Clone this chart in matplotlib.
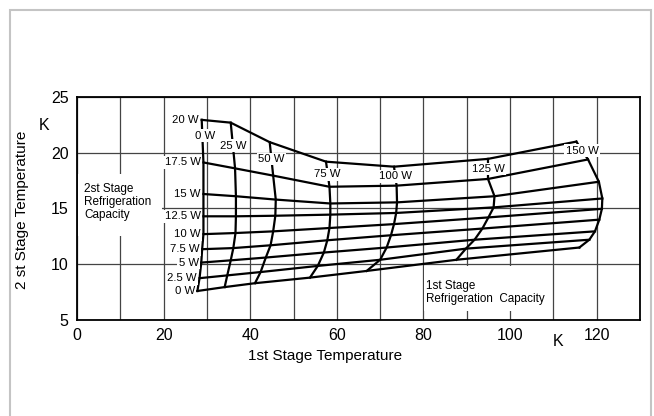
import matplotlib
matplotlib.use('Agg')
import matplotlib.pyplot as plt
from matplotlib.patches import Rectangle

plt.rcParams['font.family'] = ['Liberation Sans', 'DejaVu Sans']

# loads (W)
first_loads = [0, 25, 50, 75, 100, 125, 150]
second_loads = [0, 2.5, 5, 7.5, 10, 12.5, 15, 17.5, 20]
first_labels = ['0 W', '25 W', '50 W', '75 W', '100 W', '125 W', '150 W']
second_labels = ['0 W', '2.5 W', '5 W', '7.5 W', '10 W', '12.5 W', '15 W', '17.5 W', '20 W']

# 1st stage temperature (K), one row per 2nd stage load, one column per 1st stage load
t1 = [
    [27.8, 34.1, 41.1, 53.8, 66.9, 87.6, 116.0],
    [28.3, 34.7, 42.4, 55.6, 70.0, 89.8, 118.3],
    [28.7, 35.5, 43.6, 57.0, 71.5, 91.8, 119.6],
    [28.9, 36.1, 44.7, 57.8, 72.5, 93.6, 120.6],
    [29.2, 36.6, 45.3, 58.3, 73.2, 95.0, 121.2],
    [29.2, 36.7, 45.8, 58.5, 73.7, 96.2, 121.3],
    [29.2, 36.7, 45.9, 58.5, 73.9, 96.4, 120.5],
    [29.2, 36.5, 45.3, 58.3, 73.8, 94.9, 118.0],
    [28.8, 35.5, 44.5, 57.5, 73.2, 94.9, 115.3],
]
# 2nd stage temperature (K), same layout
t2 = [
    [7.6, 7.95, 8.3, 8.8, 9.4, 10.4, 11.5],
    [8.75, 9.0, 9.3, 9.85, 10.4, 11.4, 12.2],
    [10.15, 10.35, 10.6, 11.05, 11.5, 12.2, 12.95],
    [11.35, 11.45, 11.7, 12.15, 12.6, 13.2, 14.0],
    [12.7, 12.8, 12.95, 13.25, 13.6, 14.2, 14.97],
    [14.3, 14.3, 14.35, 14.45, 14.6, 15.1, 15.9],
    [16.3, 16.1, 15.8, 15.45, 15.55, 16.1, 17.4],
    [19.13, 18.6, 17.95, 16.95, 17.05, 17.65, 19.4],
    [22.95, 22.7, 20.95, 19.2, 18.75, 19.45, 21.0],
]

fig = plt.figure(figsize=(6.54, 4.16), dpi=100)
ax = fig.add_axes([0.1177, 0.2308, 0.8609, 0.536])

# outer grey frame
fig.patches.append(Rectangle((0.0153, -0.05), 0.98, 1.026, transform=fig.transFigure,
                             fill=False, edgecolor='#c4c4c4', lw=1.5))

ax.set_xlim(0, 130)
ax.set_ylim(5, 25)
ax.set_xticks(range(0, 131, 10))
ax.set_xticklabels([str(v) if v % 20 == 0 and v <= 120 else '' for v in range(0, 131, 10)])
ax.set_yticks(range(5, 26, 5))
ax.tick_params(length=0, labelsize=11.5)
ax.tick_params(axis='x', pad=6)
ax.tick_params(axis='y', pad=6)
ax.grid(True, color='#444444', lw=0.9)
ax.set_axisbelow(True)
for s in ax.spines.values():
    s.set_linewidth(1.3)

# constant 2nd stage load lines
for i in range(len(second_loads)):
    ax.plot(t1[i], t2[i], color='black', lw=1.6, zorder=3)
    ax.text(t1[i][0] - 0.6, t2[i][0], second_labels[i], ha='right', va='center', fontsize=8.2,
            zorder=5, bbox=dict(facecolor='white', edgecolor='none', pad=1))

# constant 1st stage load lines
for j in range(len(first_loads)):
    xs = [row[j] for row in t1]
    ys = [row[j] for row in t2]
    ax.plot(xs, ys, color='black', lw=1.6, zorder=3)
    lx = (xs[-1] + xs[-2]) / 2
    ly = (ys[-1] + ys[-2]) / 2
    if j == 0:
        ly += 0.5
        lx += 0.6
    ax.text(lx, ly, first_labels[j], ha='center', va='center', fontsize=8.2, zorder=5,
            bbox=dict(facecolor='white', edgecolor='none', pad=1))

# white boxes behind the region notes
ax.add_patch(Rectangle((0.3, 12.5), 19.4, 5.55, facecolor='white', edgecolor='none', zorder=2.5))
ax.add_patch(Rectangle((80.2, 5.8), 28.6, 4.0, facecolor='white', edgecolor='none', zorder=2.5))
ax.text(1.6, 17.3, '2st Stage\nRefrigeration\nCapacity', ha='left', va='top', fontsize=8.5,
        linespacing=1.1, zorder=5)
ax.text(80.5, 8.6, '1st Stage\nRefrigeration  Capacity', ha='left', va='top', fontsize=8.4,
        linespacing=1.1, zorder=5)

fig.text(325 / 654, 1 - 356 / 416, '1st Stage Temperature', ha='center', va='center', fontsize=11)
fig.text(22 / 654, 1 - 210 / 416, '2 st Stage Temperature', ha='center', va='center',
         rotation=90, fontsize=11)
fig.text(44 / 654, 1 - 126 / 416, 'K', ha='center', va='center', fontsize=11.5)
fig.text(558 / 654, 1 - 342 / 416, 'K', ha='center', va='center', fontsize=11.5)

fig.savefig('out.png', dpi=100)
